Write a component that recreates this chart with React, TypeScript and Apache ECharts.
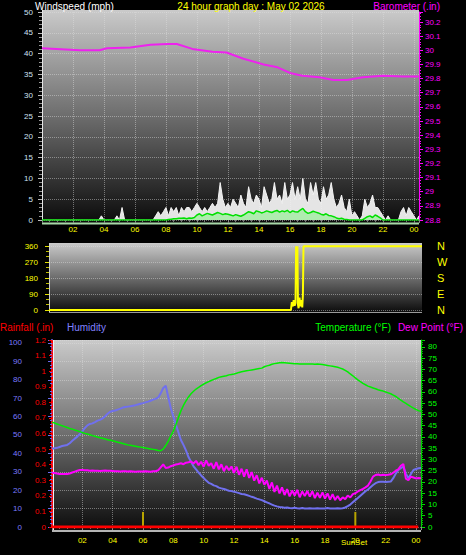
import React, { useEffect, useRef } from "react";
import * as echarts from "echarts";

// ---- data (10-minute samples, index i -> hour i/6) ----
const STEP_H = 1 / 6;

const gustMph = [
  0, 0, 0, 0, 0, 0,
  0, 0, 0, 0, 0, 0,
  0, 0, 0, 0, 0, 0,
  0, 0, 0, 0, 0, 1,
  0, 0, 0, 0, 0, 1,
  0, 3, 0, 0, 0, 0,
  0, 0, 0, 0, 0, 0,
  0, 0, 1, 2, 1, 2,
  3, 1, 3, 2, 3, 1,
  3, 2, 3, 3, 2, 3,
  4, 3, 2, 3, 2, 3,
  4, 3, 4, 9, 5, 3,
  4, 3, 5, 4, 3, 6,
  4, 3, 8, 5, 4, 6,
  5, 3, 8, 6, 4, 5,
  9, 5, 6, 4, 9, 5,
  6, 9, 5, 8, 5, 10,
  5, 4, 9, 6, 9, 5,
  4, 8, 5, 6, 9, 5,
  3, 4, 6, 3, 2, 5,
  1, 2, 1, 0, 1, 5,
  3, 4, 6, 3, 3, 2,
  1, 0, 1, 0, 0, 0,
  0, 2, 3, 1, 3, 2,
  1, 0, 1,
];

const avgMph = [
  0, 0, 0, 0, 0, 0,
  0, 0, 0, 0, 0, 0,
  0, 0, 0, 0, 0, 0,
  0, 0, 0, 0, 0, 0,
  0, 0, 0, 0, 0, 0,
  0, 0, 0, 0, 0, 0,
  0, 0, 0, 0, 0, 0,
  0, 0, 0, 0, 0, 0,
  0, 0.1, 0.2, 0.3, 0.3, 0.4,
  0.4, 0.5, 0.3, 0.5, 0.4, 0.6,
  1.2, 1.5, 1.0, 1.3, 1.6, 1.4,
  1.2, 1.5, 1.8, 1.6, 1.3, 1.5,
  1.4, 1.2, 1.0, 1.3, 1.1, 0.9,
  1.2, 1.6, 2.0, 1.8, 1.5, 2.2,
  2.0, 1.7, 1.9, 2.2, 2.0, 1.8,
  2.1, 2.3, 1.9, 2.2, 2.0, 2.3,
  1.8, 2.2, 2.0, 1.9, 2.4, 2.8,
  2.0, 1.6, 1.8, 2.1, 1.9, 1.7,
  1.4, 1.2, 1.5, 1.1, 1.0, 0.8,
  0.5, 0.3, 0.4, 0.2, 0.1, 0,
  0, 0, 0, 0, 0, 0.4,
  0.8, 1.0, 0.6, 1.2, 0.9, 0.5,
  0, 0, 0, 0, 0, 0,
  0, 0, 0, 0, 0, 0,
  0, 0, 0,
];

const baroHours = [0, 2.45, 3.7, 4.2, 5.7, 7.0, 8.1, 8.7, 9.7, 11.0, 11.9, 13.0, 14.3, 15.2, 16.0, 16.8, 17.9, 18.8, 19.7, 20.7, 22.0, 23.3, 24.3];
const baroInHg = [30.015, 30.0, 30.0, 30.015, 30.02, 30.04, 30.045, 30.045, 30.01, 29.99, 29.985, 29.94, 29.9, 29.88, 29.84, 29.82, 29.81, 29.79, 29.79, 29.81, 29.82, 29.815, 29.815];

const dirHours = [0, 15.78, 15.84, 15.9, 15.96, 16.02, 16.08, 16.12, 16.16, 16.2, 16.24, 16.28, 16.34, 16.4, 16.46, 16.52, 16.56, 16.6, 24.33];
const dirDeg = [0, 0, 45, 20, 55, 25, 40, 358, 200, 358, 30, 10, 70, 20, 55, 15, 80, 358, 358];
const compass: Record<number, string> = { 0: "N", 90: "E", 180: "S", 270: "W", 360: "N" };

const tempF = [
  46.6, 46.2, 45.8, 45.4, 45.0, 44.6,
  44.2, 43.8, 43.5, 43.1, 42.8, 42.4,
  42.0, 41.6, 41.3, 41.0, 40.6, 40.3,
  40.0, 39.7, 39.4, 39.1, 38.8, 38.6,
  38.3, 38.0, 37.7, 37.4, 37.1, 36.8,
  36.5, 36.3, 36.1, 35.9, 35.7, 35.5,
  35.3, 35.1, 34.9, 34.7, 34.5, 34.3,
  34.0, 33.9, 34.6, 36.2, 38.2, 40.5,
  42.6, 45.4, 48.6, 51.6, 54.0, 56.0,
  57.8, 59.2, 60.3, 61.3, 62.0, 62.8,
  63.5, 64.1, 64.6, 65.1, 65.6, 66.0,
  66.5, 66.8, 67.0, 67.2, 67.6, 67.8,
  68.0, 68.3, 68.7, 69.0, 69.2, 69.4,
  69.6, 69.8, 70.0, 70.2, 70.4, 70.6,
  71.2, 71.6, 71.9, 72.3, 72.6, 72.8,
  73.0, 73.1, 73.0, 72.9, 72.8, 72.7,
  72.6, 72.5, 72.4, 72.4, 72.4, 72.4,
  72.4, 72.4, 72.3, 72.4, 72.3, 72.2,
  72.0, 71.8, 71.6, 71.4, 71.2, 71.0,
  70.6, 70.2, 69.6, 68.9, 68.0, 67.2,
  66.3, 65.4, 64.6, 63.8, 63.2, 62.6,
  62.2, 61.8, 61.4, 61.0, 60.7, 60.4,
  60.0, 59.6, 59.2, 58.6, 58.0, 57.2,
  56.4, 55.6, 54.9, 54.2, 53.5, 52.8,
  52.2, 51.7, 51.4,
];

const humidityPct = [
  42.5, 42.8, 43.0, 43.5, 44.0, 44.3,
  44.6, 45.5, 46.8, 48.0, 49.1, 50.5,
  52.0, 53.8, 55.2, 56.0, 56.3, 57.0,
  57.8, 58.2, 59.0, 60.2, 61.5, 62.6,
  63.0, 63.3, 63.8, 64.3, 64.9, 65.2,
  65.4, 65.6, 65.9, 66.2, 66.6, 67.0,
  67.3, 67.7, 68.1, 68.6, 69.2, 69.6,
  70.4, 72.6, 75.5, 76.8, 70.5, 64.5,
  60.0, 55.8, 51.5, 47.3, 44.6, 41.6,
  38.0, 35.5, 33.0, 31.3, 29.6, 28.0,
  26.6, 25.2, 24.0, 23.4, 22.6, 22.2,
  21.4, 21.0, 20.6, 20.2, 19.7, 19.5,
  19.2, 18.8, 18.4, 17.9, 17.8, 17.4,
  16.9, 16.4, 16.0, 15.4, 15.0, 14.6,
  14.0, 13.4, 12.8, 12.2, 11.6, 11.2,
  10.9, 10.7, 10.5, 10.6, 10.3, 10.2,
  10.4, 10.2, 10.1, 10.3, 10.1, 10.0,
  10.2, 10.1, 10.0, 10.2, 10.1, 10.0,
  10.1, 10.3, 10.1, 10.0, 10.1, 10.2,
  10.1, 10.2, 10.6, 11.3, 12.2, 13.4,
  14.6, 15.8, 17.0, 18.2, 19.4, 20.4,
  21.6, 22.8, 23.8, 24.4, 24.6, 24.6,
  24.5, 24.6, 24.7, 26.5, 29.0, 31.0,
  32.0, 32.8, 29.0, 26.5, 28.8, 31.0,
  31.5, 31.9, 32.0,
];

const dewPointF = [
  24.1, 24.0, 23.8, 23.6, 23.5, 23.6,
  23.6, 23.8, 24.2, 24.6, 25.0, 25.3,
  25.3, 25.2, 25.2, 25.0, 25.1, 25.0,
  25.0, 24.9, 25.0, 25.1, 25.0, 25.0,
  24.9, 24.8, 24.8, 24.7, 24.8, 24.8,
  24.7, 24.8, 24.7, 24.6, 24.7, 24.7,
  24.7, 24.8, 24.7, 24.6, 24.8, 24.8,
  25.2, 26.5, 27.8, 26.2, 26.4, 27.0,
  27.4, 27.8, 28.0, 28.3, 27.9, 28.6,
  28.8, 29.1, 28.2, 29.4, 27.5, 29.0,
  26.8, 29.6, 27.2, 28.4, 25.9, 28.8,
  25.6, 27.9, 24.8, 27.1, 25.2, 26.9,
  24.0, 26.8, 23.2, 25.9, 22.4, 25.6,
  21.8, 24.4, 20.6, 23.0, 19.4, 21.9,
  18.8, 20.6, 16.9, 19.8, 15.6, 18.4,
  14.9, 17.6, 14.2, 16.8, 13.6, 16.2,
  14.0, 16.5, 13.2, 15.8, 13.8, 16.0,
  13.5, 15.9, 12.8, 15.2, 13.0, 15.4,
  12.6, 14.9, 12.2, 14.6, 12.0, 13.8,
  11.9, 13.2, 12.4, 14.0, 13.1, 14.6,
  15.0, 15.8, 16.4, 16.9, 17.6, 18.4,
  20.2, 22.4, 23.1, 23.3, 23.0, 23.2,
  23.1, 23.2, 23.4, 24.1, 25.0, 25.6,
  27.2, 28.0, 21.5, 20.8, 22.4, 22.0,
  21.6, 21.8, 21.7,
];

const rainHours = [0, 24.15];
const rainIn = [0, 0];

const sunHours = [6, 20]; // sunrise, sunset markers
const sunMarkerF = [6.7, 6.7];

const FONT = '"Liberation Sans", Arial, sans-serif';
const X_MAX = 24.33;

const pairs = (vals: number[]) => vals.map((v, i) => [i * STEP_H, v]);
const zip = (xs: number[], ys: number[]) => xs.map((x, i) => [x, ys[i]]);

const hourLabel = (v: number) => {
  if (v <= 0.01 || Math.abs(v - Math.round(v)) > 1e-6 || v > 24.01) return "";
  const h = Math.round(v) % 24;
  return (h < 10 ? "0" : "") + h;
};

const bgGrad = () =>
  new echarts.graphic.LinearGradient(0, 0, 0, 1, [
    { offset: 0, color: "#cacaca" },
    { offset: 0.5, color: "#6c6c6c" },
    { offset: 1, color: "#0a0a0a" },
  ]);

const dotted = { show: true, lineStyle: { color: "#e0e0e0", type: "dotted" as const, opacity: 0.45 } };

export default function App() {
  const ref = useRef<HTMLDivElement>(null);
  useEffect(() => {
    if (!ref.current) return;
    const chart = echarts.init(ref.current, undefined, { renderer: "svg" });
    const xBase = (grid: number, labels: boolean, margin: number, split: boolean) => ({
      type: "value" as const,
      gridIndex: grid,
      min: 0,
      max: X_MAX,
      interval: 2,
      axisLine: { show: false },
      axisTick: { show: labels, length: 3, lineStyle: { color: "#888" } },
      minorTick: { show: labels, splitNumber: 4, length: 2, lineStyle: { color: "#777" } },
      axisLabel: { show: labels, color: "#ffff00", fontSize: 8, fontFamily: FONT, margin, formatter: hourLabel },
      splitLine: split ? dotted : { show: false },
    });
    const option: any = {
      animation: false,
      backgroundColor: "#000",
      graphic: [
        // panel backgrounds
        { type: "rect", z: -100, shape: { x: 42, y: 10, width: 377, height: 214 }, style: { fill: bgGrad() } },
        { type: "line", z: -90, shape: { x1: 42.5, y1: 10, x2: 42.5, y2: 224 }, style: { stroke: "#e8e8e8", lineWidth: 1 } },
        { type: "line", z: -90, shape: { x1: 42, y1: 223.5, x2: 419, y2: 223.5 }, style: { stroke: "#a8d8a8", lineWidth: 2 } },
        { type: "rect", z: -100, shape: { x: 49, y: 243, width: 373, height: 70 }, style: { fill: bgGrad() } },
        { type: "line", z: -90, shape: { x1: 49.5, y1: 243, x2: 49.5, y2: 313 }, style: { stroke: "#d0d0d0", lineWidth: 1 } },
        { type: "line", z: -90, shape: { x1: 49, y1: 312.5, x2: 422, y2: 312.5 }, style: { stroke: "#9a9a9a", lineWidth: 1 } },
        { type: "rect", z: -100, shape: { x: 52, y: 340, width: 369, height: 192 }, style: { fill: bgGrad() } },
        { type: "line", z: -90, shape: { x1: 53.5, y1: 340, x2: 53.5, y2: 532 }, style: { stroke: "#f0f0f0", lineWidth: 1 } },
        { type: "line", z: -90, shape: { x1: 52, y1: 531, x2: 421, y2: 531 }, style: { stroke: "#b4b4b4", lineWidth: 2 } },
        // titles
        { type: "text", x: 35, y: 6, style: { text: "Windspeed (mph)", fill: "#ffffff", fontSize: 10, fontFamily: FONT, verticalAlign: "middle" } },
        { type: "text", x: 251, y: 6, style: { text: "24 hour graph day : May 02 2026", fill: "#ffff00", fontSize: 10, fontFamily: FONT, align: "center", verticalAlign: "middle" } },
        { type: "text", x: 440, y: 6, style: { text: "Barometer (.in)", fill: "#ff00ff", fontSize: 10, fontFamily: FONT, align: "right", verticalAlign: "middle" } },
        { type: "text", x: 0, y: 327, style: { text: "Rainfall (.in)", fill: "#ff0000", fontSize: 10, fontFamily: FONT, verticalAlign: "middle" } },
        { type: "text", x: 67, y: 327, style: { text: "Humidity", fill: "#8080ff", fontSize: 10, fontFamily: FONT, verticalAlign: "middle" } },
        { type: "text", x: 391, y: 327, style: { text: "Temperature (°F)", fill: "#00ff00", fontSize: 10, fontFamily: FONT, align: "right", verticalAlign: "middle" } },
        { type: "text", x: 463, y: 327, style: { text: "Dew Point (°F)", fill: "#ff00ff", fontSize: 10, fontFamily: FONT, align: "right", verticalAlign: "middle" } },
        { type: "text", x: 354, y: 542, style: { text: "SunSet", fill: "#ffff00", fontSize: 8, fontFamily: FONT, align: "center", verticalAlign: "middle" } },
      ],
      grid: [
        { left: 42, right: 47, top: 12, height: 208 },
        { left: 49, right: 44, top: 246, height: 64 },
        { left: 52, right: 45, top: 340, height: 187 },
      ],
      xAxis: [xBase(0, true, 5, true), xBase(1, false, 0, false), xBase(2, true, 9, true)],
      yAxis: [
        {
          type: "value", gridIndex: 0, position: "left", min: 0, max: 50, interval: 5,
          axisLine: { show: false },
          axisTick: { show: true, length: 4, lineStyle: { color: "#bbbbbb" } },
          minorTick: { show: true, splitNumber: 5, length: 3, lineStyle: { color: "#999" } },
          axisLabel: { color: "#cfe0f4", fontSize: 8, fontFamily: FONT, margin: 9 },
          splitLine: dotted,
        },
        {
          type: "value", gridIndex: 0, position: "right", min: 28.8, max: 30.271, interval: 0.1,
          axisLine: { show: true, lineStyle: { color: "#ff00ff" } },
          axisTick: { show: true, length: 4, lineStyle: { color: "#ff00ff" } },
          minorTick: { show: true, splitNumber: 5, length: 2, lineStyle: { color: "#ff00ff" } },
          axisLabel: {
            color: "#ff00ff", fontSize: 8, fontFamily: FONT, margin: 6, showMaxLabel: false,
            formatter: (v: number) => (v > 30.25 ? "" : String(Number(v.toFixed(1)))),
          },
          splitLine: { show: false },
        },
        {
          type: "value", gridIndex: 1, position: "left", min: 0, max: 360, interval: 90,
          axisLine: { show: false },
          axisTick: { show: true, length: 4, lineStyle: { color: "#e0e000" } },
          minorTick: { show: true, splitNumber: 3, length: 3, lineStyle: { color: "#c0c000" } },
          axisLabel: { color: "#ffff00", fontSize: 8, fontFamily: FONT, margin: 11 },
          splitLine: dotted,
        },
        {
          type: "value", gridIndex: 1, position: "right", min: 0, max: 360, interval: 90,
          axisLine: { show: false }, axisTick: { show: false },
          axisLabel: { color: "#ffff00", fontSize: 11, fontFamily: FONT, margin: 15, formatter: (v: number) => compass[v] ?? "" },
          splitLine: { show: false },
        },
        {
          type: "value", gridIndex: 2, position: "left", offset: 22, min: 0, max: 101.6, interval: 10,
          axisLine: { show: true, lineStyle: { color: "#6b6bf0", width: 2 } },
          axisTick: { show: true, length: 4, lineStyle: { color: "#6b6bf0" } },
          minorTick: { show: true, splitNumber: 5, length: 2, lineStyle: { color: "#6b6bf0" } },
          axisLabel: { color: "#7b7bff", fontSize: 8, fontFamily: FONT, margin: 8, showMaxLabel: false, formatter: (v: number) => (v > 100.5 ? "" : String(v)) },
          splitLine: dotted,
        },
        {
          type: "value", gridIndex: 2, position: "left", offset: 0, min: 0, max: 1.2, interval: 0.1,
          axisLine: { show: true, lineStyle: { color: "#ff0000", width: 2, type: "dotted" } },
          axisTick: { show: true, length: 3, lineStyle: { color: "#ff0000" } },
          axisLabel: { color: "#ff0000", fontSize: 8, fontFamily: FONT, margin: 6, formatter: (v: number) => String(Number(v.toFixed(1))) },
          splitLine: { show: false },
        },
        {
          type: "value", gridIndex: 2, position: "right", min: 0, max: 83.1, interval: 5,
          axisLine: { show: true, lineStyle: { color: "#00dd00" } },
          axisTick: { show: true, length: 4, lineStyle: { color: "#00dd00" } },
          minorTick: { show: true, splitNumber: 5, length: 2, lineStyle: { color: "#00bb00" } },
          axisLabel: { color: "#00ff00", fontSize: 8, fontFamily: FONT, margin: 7, showMaxLabel: false, formatter: (v: number) => (v > 80.5 ? "" : String(v)) },
          splitLine: { show: false },
        },
      ],
      series: [
        {
          name: "Gust", type: "line", xAxisIndex: 0, yAxisIndex: 0, data: pairs(gustMph), symbol: "none",
          lineStyle: { color: "#f4f4f4", width: 1 }, areaStyle: { color: "#f0f0f0", opacity: 0.95 },
        },
        {
          name: "Wind", type: "line", xAxisIndex: 0, yAxisIndex: 0, data: pairs(avgMph), symbol: "none",
          lineStyle: { color: "#00e000", width: 1.5 }, areaStyle: { color: "#a8eca8", opacity: 0.9 },
        },
        {
          name: "Barometer", type: "line", xAxisIndex: 0, yAxisIndex: 1, data: zip(baroHours, baroInHg), symbol: "none",
          lineStyle: { color: "#ee22ee", width: 2 },
        },
        {
          name: "Direction", type: "line", xAxisIndex: 1, yAxisIndex: 2, data: zip(dirHours, dirDeg), symbol: "none",
          lineStyle: { color: "#ffff00", width: 2 },
        },
        {
          name: "Sun", type: "bar", xAxisIndex: 2, yAxisIndex: 6, data: zip(sunHours, sunMarkerF), barWidth: 2,
          itemStyle: { color: "#b8a400" },
        },
        {
          name: "Humidity", type: "line", xAxisIndex: 2, yAxisIndex: 4, data: pairs(humidityPct), symbol: "none",
          lineStyle: { color: "#7070ee", width: 2 },
        },
        {
          name: "Temperature", type: "line", xAxisIndex: 2, yAxisIndex: 6, data: pairs(tempF), symbol: "none",
          lineStyle: { color: "#00ee00", width: 1.5 },
        },
        {
          name: "Dew Point", type: "line", xAxisIndex: 2, yAxisIndex: 6, data: pairs(dewPointF), symbol: "none",
          lineStyle: { color: "#ff00ff", width: 2 },
        },
        {
          name: "Rainfall", type: "line", xAxisIndex: 2, yAxisIndex: 5, data: zip(rainHours, rainIn), symbol: "none",
          lineStyle: { color: "#ff0000", width: 3 },
        },
      ],
    };
    chart.setOption(option);
    return () => chart.dispose();
  }, []);
  return (
    <div
      ref={ref}
      style={{ position: "fixed", left: 0, top: 0, width: 466, height: 555, background: "#000" }}
    />
  );
}
